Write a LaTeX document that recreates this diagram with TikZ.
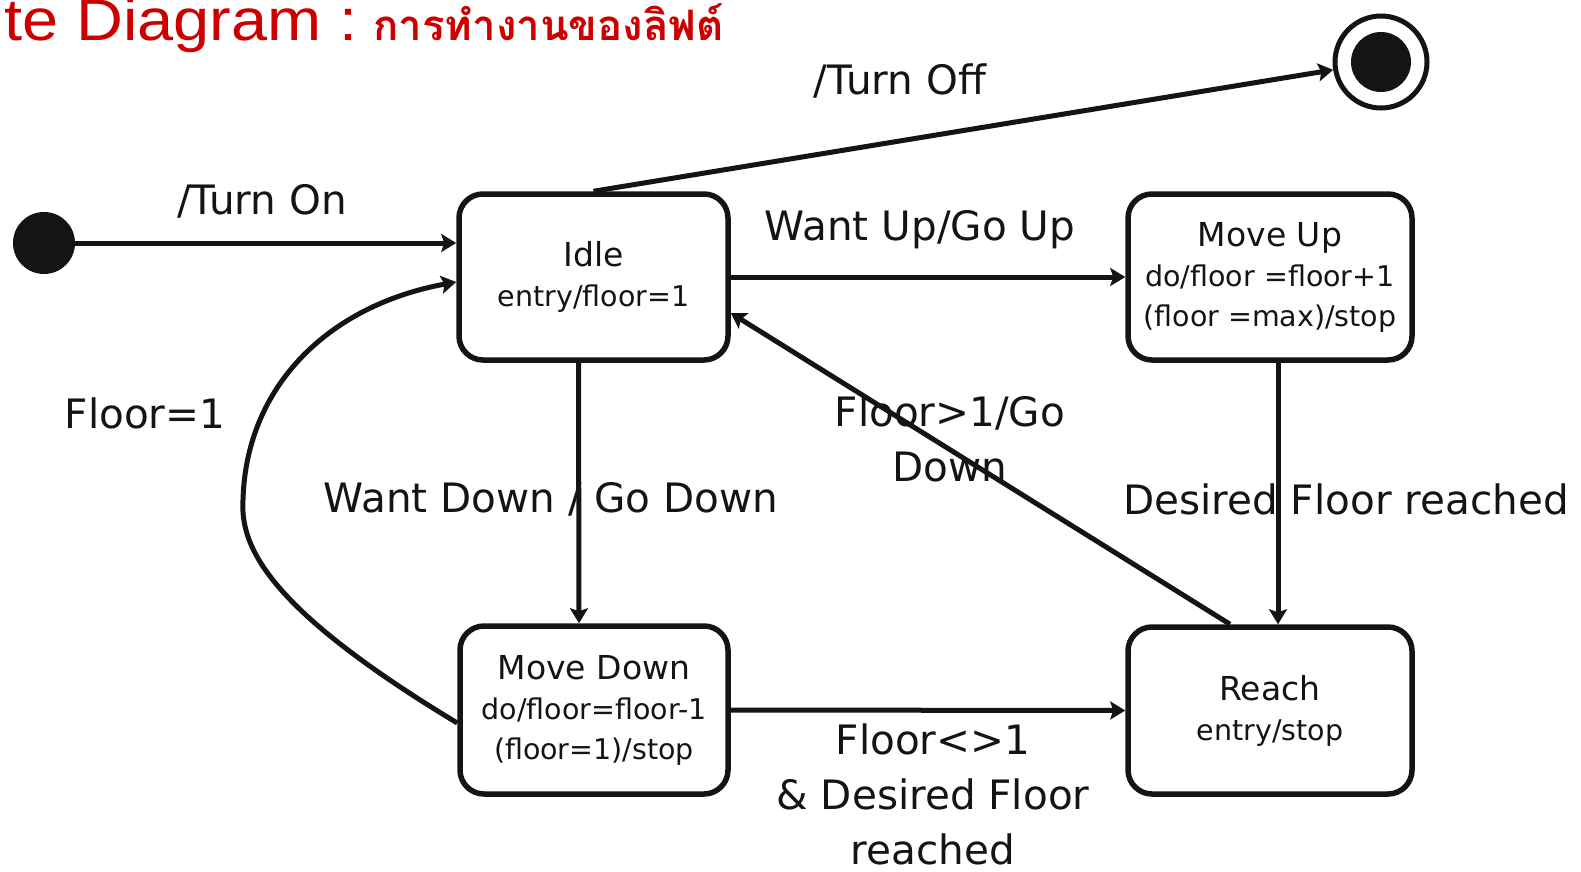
\documentclass[tikz,border=0pt]{standalone}
\usepackage{fontspec}
\setmainfont{DejaVu Sans}
\newfontfamily\headfont[FakeStretch=1.1]{Liberation Sans}
\newfontfamily\thaifont[Script=Thai]{Loma}
\usetikzlibrary{arrows.meta}
\definecolor{headred}{RGB}{204,0,0}
\definecolor{ink}{RGB}{20,20,20}
\tikzset{
  state/.style={draw=ink, line width=5.5pt, rounded corners=24pt, inner sep=0pt,
    align=center, text=ink, font=\fontsize{28.5}{40}\selectfont},
  trans/.style={draw=ink, line width=5pt, -{Stealth[length=15pt,width=18pt,inset=3pt]}},
  lbl/.style={text=ink, font=\fontsize{40.5}{55}\selectfont, align=center, inner sep=0pt},
  headline/.style={anchor=base west, inner sep=0pt, text=headred},
}
\newcommand\stname[1]{{\fontsize{33}{40}\selectfont #1}}
\begin{document}
\begin{tikzpicture}[x=1pt,y=-1pt]
\useasboundingbox (0,0) rectangle (1581,872);

% heading
\node[headline, font=\headfont\fontsize{59}{66}\selectfont] (head) at (4,41) {te Diagram :};
\node[headline, font=\thaifont\bfseries\fontsize{42}{50}\selectfont] (headthai) at (373,41) {การทำงานของลิฟต์};

% pseudo states
\node[circle, fill=ink, minimum size=62pt, inner sep=0pt] (init) at (44,243) {};
\node[circle, draw=ink, line width=5pt, minimum size=92pt, inner sep=0pt] (final) at (1381,62) {};
\node[circle, fill=ink, minimum size=60pt, inner sep=0pt] (finaldot) at (final) {};

% states
\node[state, minimum width=269pt, minimum height=166pt] (idle) at (593.5,277)
  {\stname{Idle}\\entry/floor=1};
\node[state, minimum width=284pt, minimum height=166pt] (moveup) at (1270,277)
  {\stname{Move Up}\\do/floor =floor+1\\(floor =max)/stop};
\node[state, minimum width=268pt, minimum height=168pt] (movedown) at (594,710)
  {\stname{Move Down}\\do/floor=floor-1\\(floor=1)/stop};
\node[state, minimum width=284pt, minimum height=167pt] (reach) at (1270,710.5)
  {\stname{Reach}\\entry/stop};

% transitions
\draw[trans] (init) -- (init -| idle.west);
\draw[trans] (idle.north) -- (final);
\draw[trans] (idle.east) -- (moveup.west);
\draw[trans] ([xshift=-15pt]idle.south) -- ([xshift=-15pt]movedown.north);
\draw[trans] ([xshift=8pt]moveup.south) -- ([xshift=8pt]reach.north);
\draw[trans] ([xshift=-40pt]reach.north) -- ([yshift=-36pt]idle.east);
\draw[trans] (movedown.east) -- (reach.west);
\draw[trans] ([yshift=-13pt]movedown.west)
  .. controls (270,610) and (240,548) .. (243,500)
  .. controls (246,385) and (330,305) .. ([yshift=-5pt]idle.west);

% transition labels
\node[lbl] (lon) at (262,201) {/Turn On};
\node[lbl] (loff) at (900,81) {/Turn Off};
\node[lbl] (lup) at (920,230) {Want Up/Go Up};
\node[lbl] (lfloor) at (145,413) {Floor=1};
\node[lbl] (ldown) at (551,499) {Want Down / Go Down};
\node[lbl] (lback) at (950,439) {Floor>1/Go\\Down};
\node[lbl] (lreach) at (1346,499) {Desired Floor reached};
\node[lbl] (lcross) at (933,794) {Floor<>1\\\& Desired Floor\\reached};
\end{tikzpicture}
\end{document}
